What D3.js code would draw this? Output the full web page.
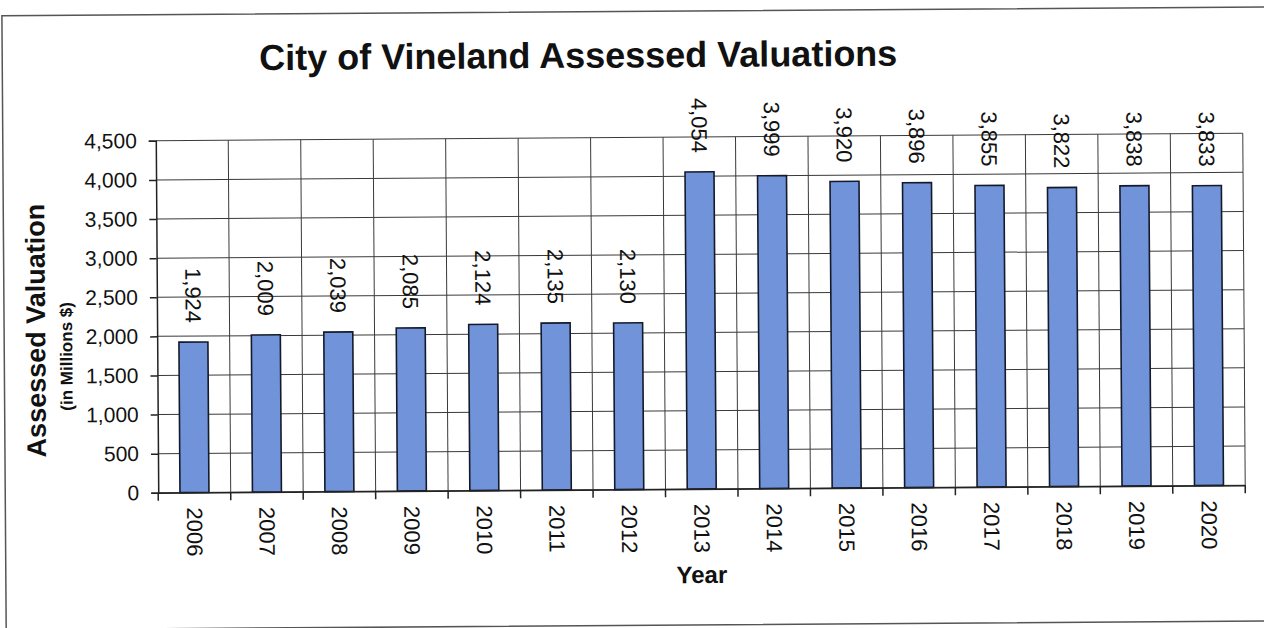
<html>
<script src="https://d3js.org/d3.v7.min.js"></script>
<style>
  body { margin: 0; background: #fff; }
  text { font-family: "Liberation Sans", Arial, sans-serif; fill: #111; }
</style>
<body>
<svg width="1264" height="628"></svg>
<script>
// data
var years = ["2006","2007","2008","2009","2010","2011","2012","2013","2014","2015","2016","2017","2018","2019","2020"];
var values = [1924, 2009, 2039, 2085, 2124, 2135, 2130, 4054, 3999, 3920, 3896, 3855, 3822, 3838, 3833];
var yTicks = [0, 500, 1000, 1500, 2000, 2500, 3000, 3500, 4000, 4500];

var data = years.map(function (d, i) { return { year: d, value: values[i] }; });

var plotLeft = 157, plotRight = 1244, plotTop = 137, plotBottom = 489;

var svg = d3.select("svg");
// the scan is a little tilted, so the whole chart is too
var g = svg.append("g").attr("transform", "rotate(-0.4,700,313)");

// outer frame
g.append("rect")
  .attr("x", 4).attr("y", 11).attr("width", 1300).attr("height", 614)
  .style("fill", "none").style("stroke", "#555").style("stroke-width", 1.5);

var x = d3.scaleBand().domain(years).range([plotLeft, plotRight]).paddingInner(0).paddingOuter(0);
var y = d3.scaleLinear().domain([0, 4500]).range([plotBottom, plotTop]);

// horizontal gridlines
g.append("g")
  .selectAll("line")
  .data(yTicks)
  .enter()
  .append("line")
    .attr("x1", plotLeft).attr("x2", plotRight)
    .attr("y1", function (d) { return y(d); })
    .attr("y2", function (d) { return y(d); })
    .style("stroke", "#3a3a3a").style("stroke-width", 1);

// vertical gridlines between years
g.append("g")
  .selectAll("line")
  .data(years.slice(1))
  .enter()
  .append("line")
    .attr("x1", function (d) { return x(d); })
    .attr("x2", function (d) { return x(d); })
    .attr("y1", plotTop).attr("y2", plotBottom)
    .style("stroke", "#3a3a3a").style("stroke-width", 1);

// right edge of plot
g.append("line")
  .attr("x1", plotRight).attr("x2", plotRight).attr("y1", plotTop).attr("y2", plotBottom)
  .style("stroke", "#3a3a3a").style("stroke-width", 1);

// bars
g.append("g")
  .selectAll("rect")
  .data(data)
  .enter()
  .append("rect")
    .attr("x", function (d) { return x(d.year) + x.bandwidth() * 0.3; })
    .attr("width", x.bandwidth() * 0.4)
    .attr("y", function (d) { return y(d.value); })
    .attr("height", function (d) { return plotBottom - y(d.value); })
    .style("fill", "#7093d9")
    .style("stroke", "#141a2a")
    .style("stroke-width", 1.6);

// value labels, rotated
g.append("g")
  .selectAll("text")
  .data(data)
  .enter()
  .append("text")
    .attr("transform", function (d) {
      return "translate(" + (x(d.year) + x.bandwidth() / 2) + "," + (y(d.value) - 19) + ") rotate(90)";
    })
    .attr("dy", "0.35em")
    .style("text-anchor", "end")
    .style("font-size", "22px")
    .text(function (d) { return d3.format(",")(d.value); });

// Y axis
var yAxis = g.append("g")
  .attr("transform", "translate(" + plotLeft + ",0)")
  .call(d3.axisLeft(y).tickValues(yTicks).tickSize(7).tickPadding(12).tickFormat(d3.format(",")));
yAxis.selectAll("text").style("font-size", "21px").style("fill", "#111");
yAxis.selectAll("line, path").style("stroke", "#222").style("stroke-width", 1.5);

// X axis, ticks at band edges
var xAxis = g.append("g")
  .attr("transform", "translate(0," + plotBottom + ")")
  .call(d3.axisBottom(x).tickSize(0).tickSizeOuter(0));
xAxis.select("path").style("stroke", "#222").style("stroke-width", 1.5);
xAxis.selectAll("text")
  .attr("transform", "rotate(90)")
  .attr("x", 15).attr("y", 0).attr("dy", "0.35em")
  .style("text-anchor", "start")
  .style("font-size", "22px")
  .style("fill", "#111");
xAxis.selectAll(".edge")
  .data(years.concat(["end"]))
  .enter()
  .append("line")
    .attr("class", "edge")
    .attr("x1", function (d, i) { return i < years.length ? x(d) : plotRight; })
    .attr("x2", function (d, i) { return i < years.length ? x(d) : plotRight; })
    .attr("y1", 0).attr("y2", 8)
    .style("stroke", "#222").style("stroke-width", 1.5);

// titles
g.append("text")
  .attr("x", 580).attr("y", 67)
  .style("text-anchor", "middle")
  .style("font-size", "36px").style("font-weight", "bold")
  .text("City of Vineland Assessed Valuations");

g.append("text")
  .attr("transform", "translate(45,326) rotate(-90)")
  .style("text-anchor", "middle")
  .style("font-size", "27px").style("font-weight", "bold")
  .text("Assessed Valuation");

g.append("text")
  .attr("transform", "translate(72,352) rotate(-90)")
  .style("text-anchor", "middle")
  .style("font-size", "17px").style("font-weight", "bold")
  .text("(in Millions $)");

g.append("text")
  .attr("x", 700).attr("y", 583)
  .style("text-anchor", "middle")
  .style("font-size", "24px").style("font-weight", "bold")
  .text("Year");
</script>
</body>
</html>
